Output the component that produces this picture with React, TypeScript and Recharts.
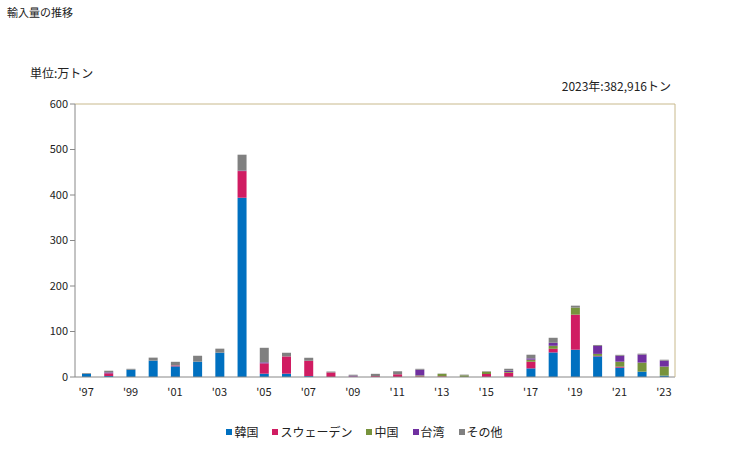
import { BarChart, Bar, XAxis, YAxis, ReferenceLine } from "recharts";

const years = [
  "'97", "'98", "'99", "'00", "'01", "'02", "'03", "'04", "'05", "'06",
  "'07", "'08", "'09", "'10", "'11", "'12", "'13", "'14", "'15", "'16",
  "'17", "'18", "'19", "'20", "'21", "'22", "'23",
];

const korea = [7, 2.2, 16, 36, 23.4, 33.7, 53.5, 394, 7.3, 7.3, 2, 0, 0, 0, 0, 0, 0, 0, 0, 0, 19, 54, 60, 45.4, 20.5, 11.7, 3];
const sweden = [0, 5.9, 0, 0, 2, 0, 0, 58.6, 22.7, 38, 33.7, 10, 1, 2, 6, 1.5, 1.5, 0, 6.6, 9.5, 14.6, 8, 77, 1, 2.2, 0, 0];
const china = [0, 0, 0, 0, 0, 0, 0, 0, 0, 0, 0, 0, 0, 0, 0, 2, 5.5, 3.7, 5, 1.5, 4.4, 6.6, 15.4, 4.4, 11, 20, 20];
const taiwan = [0, 2, 0, 0, 0, 0, 0, 1, 2.2, 0, 0, 0, 2, 0, 0, 12.5, 0, 0, 0, 3, 3, 6.6, 0, 17.6, 13, 17.6, 13];
const others = [1.5, 3.7, 2, 6.6, 8, 13, 8.8, 35, 32, 8, 6.6, 2, 2, 5, 6.6, 2, 0.5, 1.5, 1, 4.4, 8, 11, 4.4, 2, 2, 2, 2];

const yTicks = [0, 100, 200, 300, 400, 500, 600];

const seriesNames = ["韓国", "スウェーデン", "中国", "台湾", "その他"];
const seriesKeys = ["korea", "sweden", "china", "taiwan", "others"];
const colors = ["#0070c0", "#d01c62", "#77933c", "#7030a0", "#808080"];

const data = years.map((y, i) => ({
  year: y,
  korea: korea[i],
  sweden: sweden[i],
  china: china[i],
  taiwan: taiwan[i],
  others: others[i],
}));

const font = "'Noto Sans CJK JP', 'DejaVu Sans', sans-serif";

export default function App() {
  return (
    <div
      style={{
        position: "absolute",
        left: 0,
        top: 0,
        width: 729,
        height: 450,
        background: "#fff",
        fontFamily: font,
        color: "#222",
      }}
    >
      <div style={{ position: "absolute", left: 7, top: 4, fontSize: 11 }}>輸入量の推移</div>
      <div style={{ position: "absolute", left: 30, top: 64, fontSize: 12 }}>単位:万トン</div>
      <div style={{ position: "absolute", right: 58, top: 77, fontSize: 12 }}>2023年:382,916トン</div>

      <BarChart
        width={729}
        height={450}
        data={data}
        margin={{ top: 104, right: 53, bottom: 43, left: 20 }}
        barSize={9}
        style={{ position: "absolute", left: 0, top: 0 }}
      >
        <XAxis
          dataKey="year"
          interval={1}
          tickLine={false}
          axisLine={{ stroke: "#888" }}
          tick={{ fontSize: 11, fill: "#222", fontFamily: font }}
          tickMargin={5}
          height={30}
        />
        <YAxis
          yAxisId="left"
          domain={[0, 600]}
          ticks={yTicks}
          width={55}
          tickSize={5}
          axisLine={{ stroke: "#888" }}
          tickLine={{ stroke: "#888" }}
          tick={{ fontSize: 11, fill: "#222", fontFamily: font }}
        />
        <YAxis
          yAxisId="right"
          orientation="right"
          domain={[0, 600]}
          width={1}
          tick={false}
          tickLine={false}
          axisLine={{ stroke: "#c8b98c" }}
        />
        <ReferenceLine yAxisId="left" y={600} stroke="#c8b98c" />
        {seriesKeys.map((k, i) => (
          <Bar
            key={k}
            yAxisId="left"
            dataKey={k}
            stackId="a"
            fill={colors[i]}
            isAnimationActive={false}
          />
        ))}
      </BarChart>

      <div
        style={{
          position: "absolute",
          top: 423,
          left: 0,
          width: 729,
          display: "flex",
          justifyContent: "center",
          gap: 14,
          fontSize: 12,
        }}
      >
        {seriesNames.map((n, i) => (
          <span key={n} style={{ display: "flex", alignItems: "center" }}>
            <span
              style={{
                display: "inline-block",
                width: 6,
                height: 6,
                background: colors[i],
                marginRight: 2,
              }}
            />
            {n}
          </span>
        ))}
      </div>
    </div>
  );
}
